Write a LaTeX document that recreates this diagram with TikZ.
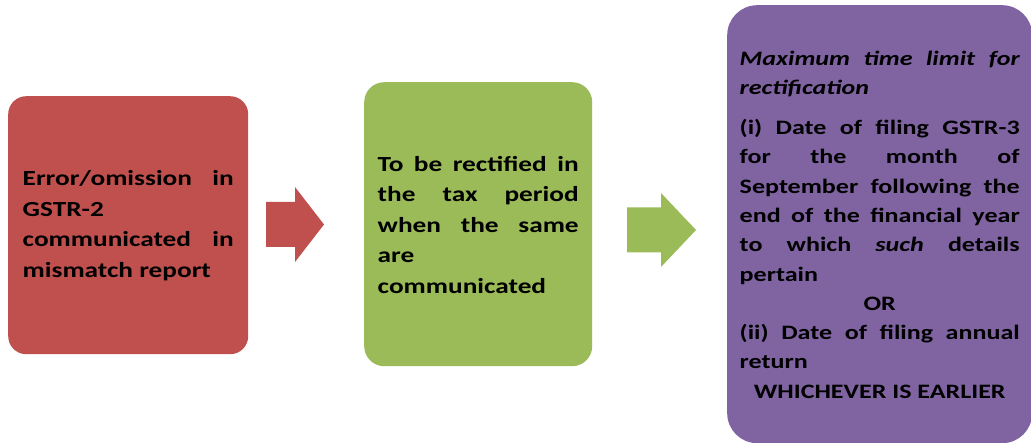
\documentclass[tikz,border=0pt]{standalone}
\usepackage{fontspec}
\setmainfont{Carlito}[FakeStretch=1.27]
\usetikzlibrary{calc}
\definecolor{errred}{HTML}{C0504D}
\definecolor{rectgreen}{HTML}{9BBB59}
\definecolor{limitpurple}{HTML}{8064A2}
\def\blockarrow[#1](#2)(#3:#4:#5:#6){\fill[#1] ($(#2)+(0,#5)$) -- ($(#2)+(#3,#5)$) -- ($(#2)+(#3,#6)$) -- ($(#2)+(#4,0)$) -- ($(#2)+(#3,-#6)$) -- ($(#2)+(#3,-#5)$) -- ($(#2)+(0,-#5)$) -- cycle;}

\begin{document}
\begin{tikzpicture}[x=1pt,y=-1pt]
	%%%%% START %%%%%
	\def\bigfont{\bfseries\fontsize{21.5}{30.5}\selectfont}
	\def\smallfont{\bfseries\fontsize{20.5}{29.3}\selectfont}
	\def\lowgap{\par\vspace*{-1pt}}
	\tikzset{stepbox/.style={anchor=north west, inner sep=0pt, align=justify, text=black}}
	
	\useasboundingbox (0,0) rectangle (1031,443);
	
	\node[stepbox, fill=errred, rounded corners=18pt, minimum width=240pt, minimum height=258pt, text width=211pt, font=\bigfont] (err) at (8,96)
		{Error/omission in\linebreak GSTR-2\newline communicated in\linebreak mismatch report\lowgap};
	
	\node[stepbox, fill=rectgreen, rounded corners=20pt, minimum width=228pt, minimum height=284pt, text width=201pt, font=\bigfont] (rect) at (364,82)
		{To be rectified in\linebreak the tax period\linebreak when the same\linebreak are\newline communicated\lowgap};
	
	\node[stepbox, fill=limitpurple, rounded corners=30pt, minimum width=305pt, minimum height=438pt, text width=280pt, font=\smallfont] (limit) at (727,5)
		{\textit{Maximum time limit for\linebreak rectification}\par\vspace{10.5pt}
		(i) Date of filing GSTR-3\linebreak for the month of\linebreak September following the\linebreak end of the financial year\linebreak to which \textit{such} details\linebreak pertain\par
		\centerline{OR}
		(ii) Date of filing annual\linebreak return\par
		\centerline{WHICHEVER IS EARLIER}\lowgap};
	
	\coordinate (arrone) at (266,224.5);
	\coordinate (arrtwo) at (627,230);
	\blockarrow[errred](arrone)(29:58:22.5:37.5)
	\blockarrow[rectgreen](arrtwo)(34:69:22.5:37)
	%%%%% END %%%%%
\end{tikzpicture}
\end{document}
